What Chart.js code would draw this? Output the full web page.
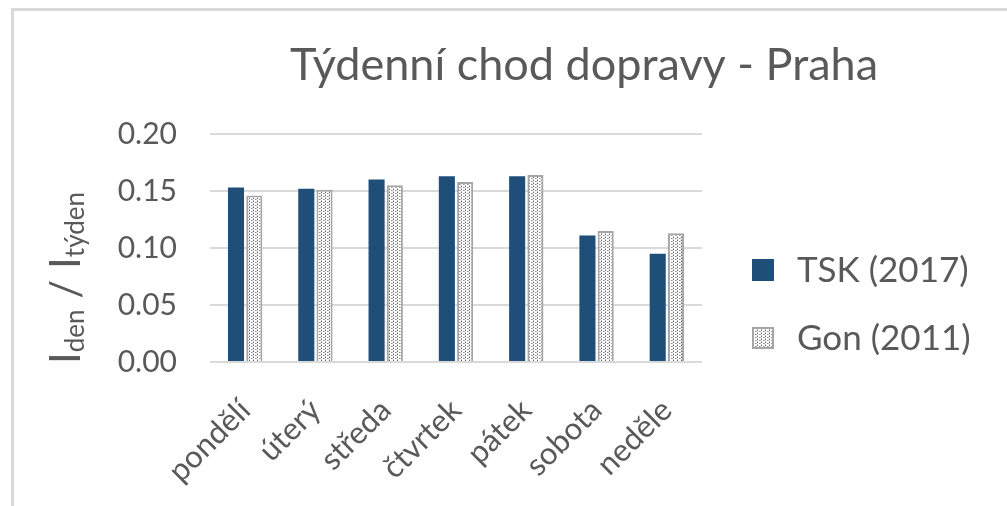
<!DOCTYPE html>
<html>
<head>
<meta charset="utf-8">
<script src="https://cdn.jsdelivr.net/npm/chart.js@4"></script>
<style>
html, body { margin: 0; padding: 0; background: #fff; }
#wrap { position: relative; width: 1007px; height: 506px; overflow: hidden; }
#frame { position: absolute; left: 11px; top: 8px; width: 1100px; height: 600px;
  border-left: 3px solid #d9d9d9; border-top: 3px solid #d9d9d9; }
#wrap canvas { position: absolute; left: 0; top: 0; }
</style>
</head>
<body>
<div id="wrap"><div id="frame"></div><canvas id="chart" width="1007" height="506"></canvas></div>
<script>
// data
var days = ['pondělí', 'úterý', 'středa', 'čtvrtek', 'pátek', 'sobota', 'neděle'];
var tsk2017 = [0.153, 0.152, 0.160, 0.163, 0.163, 0.111, 0.095];
var gon2011 = [0.146, 0.151, 0.155, 0.158, 0.164, 0.115, 0.113];
var seriesNames = ['TSK (2017)', 'Gon (2011)'];
var chartTitle = 'Týdenní chod dopravy - Praha';

var textColor = '#595959';
var font = 'Lato';

// dotted fill like the excel pattern
function dotPattern() {
    var p = document.createElement('canvas');
    p.width = 4;
    p.height = 3;
    var g = p.getContext('2d');
    g.fillStyle = '#ffffff';
    g.fillRect(0, 0, 4, 3);
    g.fillStyle = '#5f5f5f';
    g.fillRect(1, 0, 1, 1);
    g.fillStyle = '#8c8c8c';
    g.fillRect(3, 1, 1, 1);
    g.fillStyle = '#b8b8b8';
    g.fillRect(1, 2, 1, 1);
    g.fillRect(0, 1, 1, 1);
    return document.getElementById('chart').getContext('2d').createPattern(p, 'repeat');
}

// title, y axis label with subscripts, legend on the right
var extraText = {
    id: 'extraText',
    afterDraw: function(chart) {
        var ctx = chart.ctx;
        ctx.save();
        ctx.fillStyle = textColor;
        ctx.font = '45px ' + font;
        ctx.textAlign = 'center';
        ctx.textBaseline = 'alphabetic';
        ctx.fillText(chartTitle, 584, 80);

        // legend
        chart.data.datasets.forEach(function(ds, i) {
            var y = 270 + i * 68;
            ctx.fillStyle = ds.backgroundColor;
            ctx.fillRect(752, y - 11, 22, 22);
            if (ds.borderWidth) {
                ctx.strokeStyle = ds.borderColor;
                ctx.lineWidth = ds.borderWidth;
                ctx.strokeRect(753, y - 10, 20, 20);
            }
            ctx.fillStyle = textColor;
            ctx.font = '35px ' + font;
            ctx.textAlign = 'left';
            ctx.textBaseline = 'middle';
            ctx.fillText(ds.label, 797, y + 1);
        });

        var parts = [
            ['I', 42, 0], ['den', 26, 4], [' / ', 42, 0], ['I', 42, 0], ['týden', 26, 4]
        ];
        var total = 0;
        ctx.textBaseline = 'alphabetic';
        parts.forEach(function(p) {
            ctx.font = p[1] + 'px ' + font;
            p.push(ctx.measureText(p[0]).width);
            total += p[3];
        });
        var cy = (chart.chartArea.top + chart.chartArea.bottom) / 2 + 30;
        ctx.translate(80, cy);
        ctx.rotate(-Math.PI / 2);
        ctx.textAlign = 'left';
        var x = -total / 2;
        parts.forEach(function(p) {
            ctx.font = p[1] + 'px ' + font;
            ctx.fillText(p[0], x, p[2]);
            x += p[3];
        });
        ctx.restore();
    }
};

var ctx = document.getElementById('chart').getContext('2d');
var chart = new Chart(ctx, {
    type: 'bar',
    data: {
        labels: days,
        datasets: [{
            label: seriesNames[0],
            data: tsk2017,
            backgroundColor: '#1f4e79',
            borderWidth: 0
        }, {
            label: seriesNames[1],
            data: gon2011,
            backgroundColor: dotPattern(),
            borderColor: '#a6a6a6',
            borderWidth: 2
        }]
    },
    options: {
        responsive: false,
        animation: false,
        layout: { padding: { left: 100, top: 134, right: 305, bottom: 0 } },
        categoryPercentage: 0.52,
        barPercentage: 0.88,
        plugins: {
            title: { display: false },
            tooltip: { enabled: false },
            legend: { display: false }
        },
        scales: {
            x: {
                grid: { display: false },
                border: { display: false },
                ticks: {
                    color: textColor,
                    font: { family: font, size: 31 },
                    minRotation: 45,
                    maxRotation: 45,
                    padding: 22
                },
                afterFit: function(scale) { scale.height = 144; }
            },
            y: {
                min: 0,
                max: 0.2,
                grid: { color: '#d9d9d9', lineWidth: 2, drawTicks: false },
                border: { display: false },
                ticks: {
                    stepSize: 0.05,
                    color: textColor,
                    font: { family: font, size: 30 },
                    padding: 33,
                    callback: function(v) { return v.toFixed(2); }
                },
                afterFit: function(scale) { scale.width = 110; }
            }
        }
    },
    plugins: [extraText]
});
</script>
</body>
</html>
